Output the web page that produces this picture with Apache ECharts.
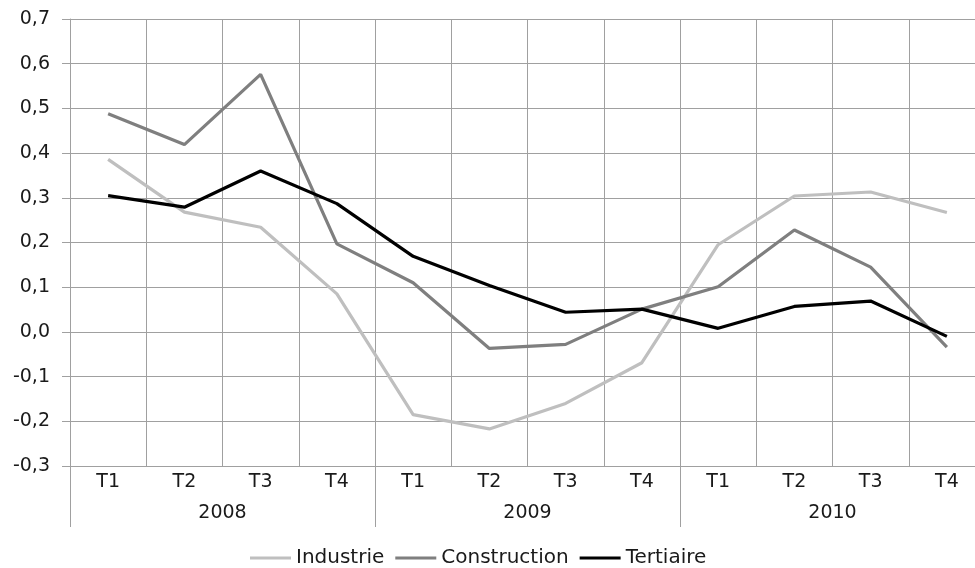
<!DOCTYPE html>
<html>
<head>
<meta charset="utf-8">
<script src="https://cdn.jsdelivr.net/npm/echarts@6/dist/echarts.min.js"></script>
<style>
  html, body { margin: 0; padding: 0; background: #fff; }
  #chart { width: 975px; height: 568px; }
</style>
</head>
<body>
<div id="chart"></div>
<script>
// trimestres / années
var quarters = ['T1', 'T2', 'T3', 'T4', 'T1', 'T2', 'T3', 'T4', 'T1', 'T2', 'T3', 'T4'];
var years = ['2008', '2009', '2010'];

var industrie    = [0.386, 0.268, 0.234, 0.085, -0.185, -0.217, -0.160, -0.069, 0.195, 0.304, 0.313, 0.267];
var construction = [0.488, 0.419, 0.576, 0.197, 0.110, -0.037, -0.028, 0.051, 0.101, 0.228, 0.145, -0.034];
var tertiaire    = [0.305, 0.279, 0.360, 0.287, 0.169, 0.104, 0.044, 0.051, 0.008, 0.057, 0.069, -0.010];

var gridColor = '#a0a0a0';
var txtColor = '#1a1a1a';
var font = 'DejaVu Sans, sans-serif';

var chart = echarts.init(document.getElementById('chart'));

function mkLine(name, data, color) {
	return {
		name: name,
		type: 'line',
		data: data,
		symbol: 'none',
		xAxisIndex: 0,
		lineStyle: { color: color, width: 3.2 },
		itemStyle: { color: color },
		z: 3
	};
}

var option = {
	animation: false,
	backgroundColor: '#fff',
	// la grille déborde à droite, comme sur l'original
	grid: { left: 70, top: 19, width: 915, bottom: 102, outerBoundsMode: 'none' },
	legend: {
		top: 548,
		left: 250,
		padding: 0,
		icon: 'rect',
		itemWidth: 41,
		itemHeight: 3,
		itemGap: 11,
		textStyle: { fontFamily: font, fontSize: 20, color: txtColor },
		data: ['Industrie', 'Construction', 'Tertiaire']
	},
	xAxis: [
		{
			type: 'category',
			data: quarters,
			boundaryGap: true,
			axisLine: { show: true, lineStyle: { color: gridColor } },
			axisTick: { show: true, length: 29, lineStyle: { color: gridColor } },
			axisLabel: { margin: 7, fontFamily: font, fontSize: 19, color: txtColor },
			splitLine: { show: true, lineStyle: { color: gridColor, width: 1 } }
		},
		{
			type: 'category',
			data: years,
			position: 'bottom',
			boundaryGap: true,
			axisLine: { show: false },
			axisTick: { show: true, length: 61, lineStyle: { color: gridColor } },
			axisLabel: { margin: 38, fontFamily: font, fontSize: 19, color: txtColor },
			splitLine: { show: false }
		}
	],
	yAxis: {
		type: 'value',
		min: -0.3,
		max: 0.7,
		interval: 0.1,
		axisLine: { show: true, lineStyle: { color: gridColor } },
		axisTick: { show: true, length: 8, lineStyle: { color: gridColor } },
		axisLabel: {
			margin: 20,
			fontFamily: font,
			fontSize: 19,
			color: txtColor,
			formatter: function (v) {
				return (Math.round(v * 10) / 10).toFixed(1).replace('.', ',');
			}
		},
		splitLine: { show: true, lineStyle: { color: gridColor, width: 1 } }
	},
	series: [
		mkLine('Industrie', industrie, '#bfbfbf'),
		mkLine('Construction', construction, '#7f7f7f'),
		mkLine('Tertiaire', tertiaire, '#000000')
	]
};

chart.setOption(option);
</script>
</body>
</html>
